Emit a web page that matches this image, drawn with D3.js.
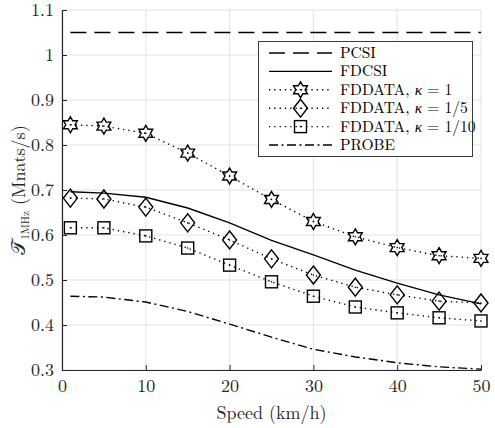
<!DOCTYPE html>
<html>
<head>
<meta charset="utf-8">
<script src="https://cdn.jsdelivr.net/npm/d3@7"></script>
<style>
  body { margin: 0; background: #fff; }
</style>
</head>
<body>
<svg width="495" height="428"></svg>
<script>
// data
var speeds = [1, 5, 10, 15, 20, 25, 30, 35, 40, 45, 50];
var pcsi = [1.05, 1.05, 1.05, 1.05, 1.05, 1.05, 1.05, 1.05, 1.05, 1.05, 1.05];
var fdcsi = [0.696, 0.693, 0.684, 0.660, 0.627, 0.588, 0.556, 0.522, 0.493, 0.467, 0.447];
var fdK1 = [0.845, 0.842, 0.826, 0.782, 0.731, 0.679, 0.630, 0.596, 0.572, 0.554, 0.548];
var fdK5 = [0.682, 0.680, 0.662, 0.627, 0.589, 0.547, 0.511, 0.484, 0.467, 0.453, 0.449];
var fdK10 = [0.616, 0.616, 0.598, 0.571, 0.533, 0.496, 0.464, 0.440, 0.427, 0.416, 0.409];
var probe = [0.464, 0.462, 0.451, 0.430, 0.402, 0.373, 0.346, 0.329, 0.316, 0.307, 0.302];
var xTicks = [0, 10, 20, 30, 40, 50];
var yTicks = [0.3, 0.4, 0.5, 0.6, 0.7, 0.8, 0.9, 1, 1.1];

var series = [
    { name: "PCSI", values: pcsi, dash: "16,8", marker: null },
    { name: "FDCSI", values: fdcsi, dash: null, marker: null },
    { name: "FDDATA, ", kappa: "1", values: fdK1, dash: "1.3,4", marker: "star" },
    { name: "FDDATA, ", kappa: "1/5", values: fdK5, dash: "1.3,4", marker: "diamond" },
    { name: "FDDATA, ", kappa: "1/10", values: fdK10, dash: "1.3,4", marker: "square" },
    { name: "PROBE", values: probe, dash: "9,3.5,2,3.5", marker: null }
];

var FONT = "'Latin Modern Roman', 'CMU Serif', 'Liberation Serif', serif";

var svg = d3.select("svg");
var margin = { left: 62, right: 14, top: 10, bottom: 58 };
var W = 495, H = 428;

var x = d3.scaleLinear().domain([0, 50]).range([margin.left, W - margin.right]);
var y = d3.scaleLinear().domain([0.3, 1.1]).range([H - margin.bottom, margin.top]);

// grid
var grid = svg.append("g");
grid.selectAll(".gx").data(xTicks).enter().append("line")
    .attr("x1", d => x(d)).attr("x2", d => x(d))
    .attr("y1", y(0.3)).attr("y2", y(1.1))
    .attr("stroke", "#e3e3e3").attr("stroke-width", 1);
grid.selectAll(".gy").data(yTicks).enter().append("line")
    .attr("x1", x(0)).attr("x2", x(50))
    .attr("y1", d => y(d)).attr("y2", d => y(d))
    .attr("stroke", "#e3e3e3").attr("stroke-width", 1);

// axes, ticks pointing inward
var xAxis = svg.append("g")
    .attr("transform", "translate(0," + y(0.3) + ")")
    .call(d3.axisBottom(x).tickValues(xTicks).tickSizeInner(-5).tickSizeOuter(0).tickPadding(9));
var yAxis = svg.append("g")
    .attr("transform", "translate(" + x(0) + ",0)")
    .call(d3.axisLeft(y).tickValues(yTicks).tickSizeInner(-5).tickSizeOuter(0).tickPadding(8)
        .tickFormat(d => d === 1 ? "1" : d3.format(".1f")(d)));
[xAxis, yAxis].forEach(function (a) {
    a.selectAll("path").attr("stroke", "#262626").attr("stroke-width", 1.2);
    a.selectAll("line").attr("stroke", "#262626");
    a.selectAll("text").attr("fill", "#262626").style("font-size", "18px")
        .style("font-family", FONT);
});

// axis labels
svg.append("text")
    .attr("x", x(25)).attr("y", 419)
    .attr("text-anchor", "middle")
    .attr("fill", "#262626")
    .style("font-family", FONT)
    .style("font-size", "18px")
    .text("Speed (km/h)");

var yl = svg.append("text")
    .attr("transform", "translate(25," + y(0.7) + ") rotate(-90)")
    .attr("text-anchor", "middle")
    .attr("fill", "#262626")
    .style("font-family", FONT)
    .style("font-size", "18px");
yl.append("tspan").style("font-size", "20px").text("\u{1D4AF}");
yl.append("tspan").attr("dy", 4).style("font-size", "11px").text("1MHz");
yl.append("tspan").attr("dy", -4).text(" (Mnats/s)");

// marker shapes
function hexagram(r) {
    var pts = [];
    for (var i = 0; i < 12; i++) {
        var a = Math.PI / 6 * i - Math.PI / 2;
        var rr = i % 2 === 0 ? r : r * 0.58;
        pts.push([rr * Math.cos(a), rr * Math.sin(a)]);
    }
    return "M" + pts.map(p => p.join(",")).join("L") + "Z";
}
function drawMarker(g, type, cx, cy) {
    var m;
    if (type === "star") {
        m = g.append("path").attr("d", hexagram(8));
    } else if (type === "diamond") {
        m = g.append("path").attr("d", "M0,-9L7,0L0,9L-7,0Z");
    } else if (type === "square") {
        m = g.append("rect").attr("x", -6).attr("y", -6).attr("width", 12).attr("height", 12);
    }
    m.attr("transform", "translate(" + cx + "," + cy + ")")
        .attr("fill", "none").attr("stroke", "#000").attr("stroke-width", 1.4)
        .attr("stroke-linejoin", "miter");
    g.append("circle").attr("cx", cx).attr("cy", cy).attr("r", 0.8).attr("fill", "#000");
}

var line = d3.line()
    .x((d, i) => x(speeds[i]))
    .y(d => y(d));

var plot = svg.append("g");
series.forEach(function (s) {
    plot.append("path")
        .datum(s.values)
        .attr("d", line)
        .attr("fill", "none")
        .attr("stroke", "#000")
        .attr("stroke-width", 1.4)
        .attr("stroke-dasharray", s.dash);
    if (s.marker) {
        s.values.forEach(function (v, i) {
            drawMarker(plot, s.marker, x(speeds[i]), y(v));
        });
    }
});

// legend
var lg = svg.append("g");
lg.append("rect")
    .attr("x", 258.5).attr("y", 41.5).attr("width", 214).attr("height", 115)
    .attr("fill", "#fff").attr("stroke", "#3a3a3a").attr("stroke-width", 1);
series.forEach(function (s, i) {
    var ly = 53 + i * 18.4;
    lg.append("line")
        .attr("x1", 269).attr("x2", 332).attr("y1", ly).attr("y2", ly)
        .attr("stroke", "#000").attr("stroke-width", 1.4)
        .attr("stroke-dasharray", s.dash);
    if (s.marker) drawMarker(lg, s.marker, 300.5, ly);
    var t = lg.append("text")
        .attr("x", 340).attr("y", ly + 5)
        .attr("fill", "#000")
        .style("font-family", FONT)
        .style("font-size", "15.5px")
        .text(s.name);
    if (s.kappa) {
        t.append("tspan").style("font-style", "italic").text("\u03BA");
        t.append("tspan").text(" = " + s.kappa);
    }
});
</script>
</body>
</html>
